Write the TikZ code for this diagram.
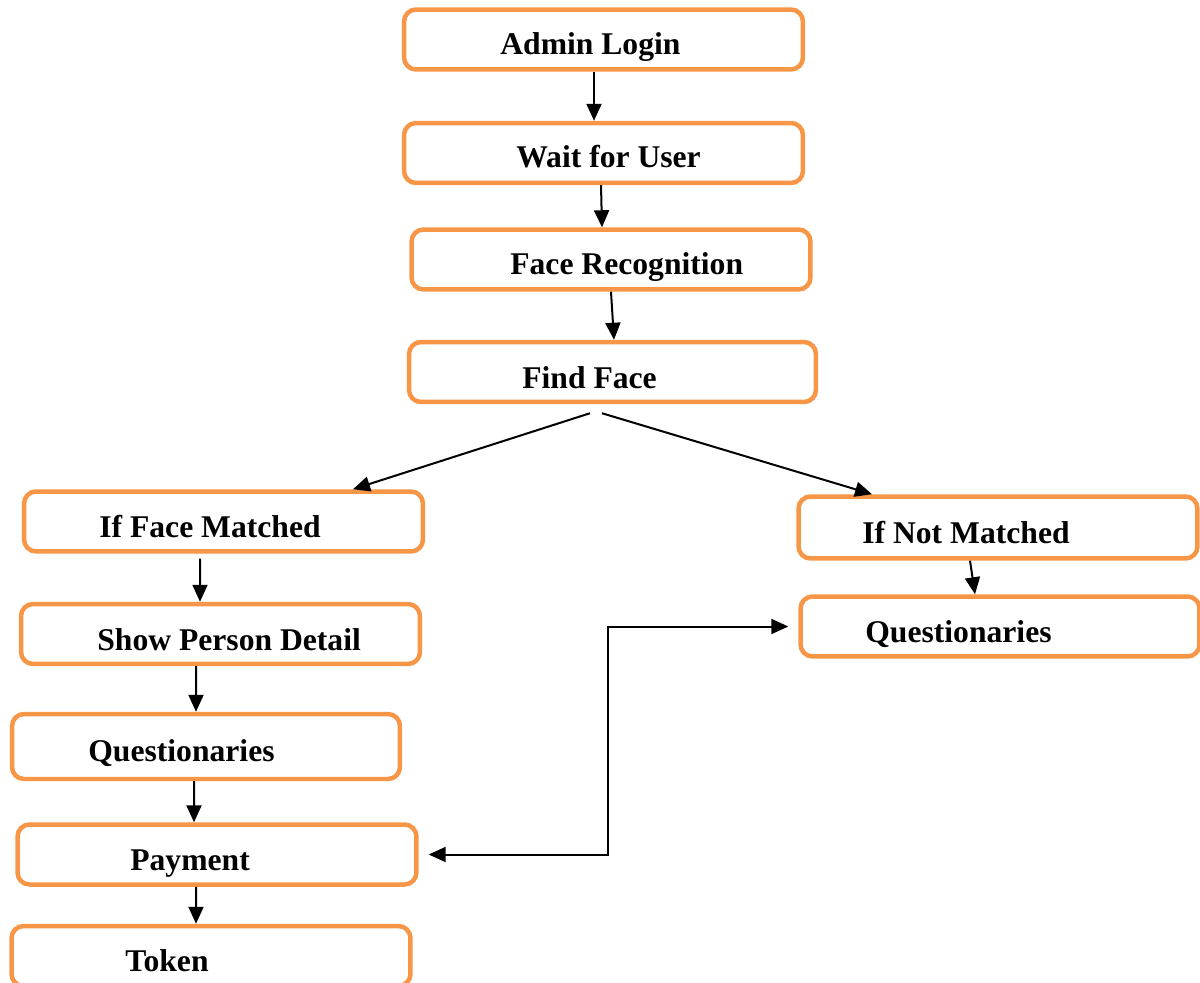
\documentclass[tikz,border=0pt]{standalone}
\usepackage{fontspec}
\setmainfont{Liberation Serif}
\usepackage{tikz}
\usetikzlibrary{arrows.meta,positioning}

\definecolor{boxorange}{HTML}{F79646}

\tikzset{
  flowbox/.style={draw=boxorange, line width=0.09cm, rounded corners=0.24cm, minimum width=7.98cm, minimum height=1.2cm, inner sep=0pt},
  boxtext/.style={font=\fontsize{18}{22}\selectfont\bfseries, anchor=base west, inner sep=0pt},
  flow/.style={line width=0.04cm, -{Triangle[length=0.34cm,width=0.3cm]}}
}

\begin{document}
\begin{tikzpicture}[x=0.02cm, y=-0.02cm]
    \useasboundingbox (0,0) rectangle (1200,983);

    % boxes
    \node[flowbox] (admin) at (603.5,39.5) {};
    \node[flowbox] (wait) at (603.5,153) {};
    \node[flowbox] (facerec) at (611,259.5) {};
    \node[flowbox, minimum width=8.14cm] (find) at (612.5,372) {};
    \node[flowbox] (ifmatch) at (223.5,521.5) {};
    \node[flowbox, minimum height=1.24cm] (ifnot) at (998,527.5) {};
    \node[flowbox] (show) at (220.5,634) {};
    \node[flowbox, minimum width=7.76cm, minimum height=1.3cm] (qleft) at (206,746.5) {};
    \node[flowbox] (qright) at (1000,626.5) {};
    \node[flowbox] (payment) at (217,854.5) {};
    \node[flowbox] (token) at (211,956) {};

    % labels
    \node[boxtext] (admin-t) at (500,55) {Admin Login};
    \node[boxtext] (wait-t) at (516,168) {Wait for User};
    \node[boxtext] (facerec-t) at (510,275) {Face Recognition};
    \node[boxtext] (find-t) at (522,388) {Find Face};
    \node[boxtext] (ifmatch-t) at (99,537) {If Face Matched};
    \node[boxtext] (ifnot-t) at (862,543) {If Not Matched};
    \node[boxtext] (show-t) at (97,650) {Show Person Detail};
    \node[boxtext] (qleft-t) at (88,761) {Questionaries};
    \node[boxtext] (qright-t) at (865,642) {Questionaries};
    \node[boxtext] (payment-t) at (130,870) {Payment};
    \node[boxtext] (token-t) at (125,971) {Token};

    % arrows
    \draw[flow] ([xshift=-0.19cm]admin.south) -- ([xshift=-0.19cm]wait.north);
    \draw[flow] ([xshift=-0.05cm]wait.south) -- ([xshift=-0.18cm]facerec.north);
    \draw[flow] (facerec.south) -- ([xshift=0.03cm]find.north);
    \draw[flow] ([xshift=-0.45cm,yshift=-0.18cm]find.south) -- ([xshift=2.59cm]ifmatch.north);
    \draw[flow] ([xshift=-0.21cm,yshift=-0.18cm]find.south) -- ([xshift=-2.52cm]ifnot.north);
    \draw[flow] ([xshift=-0.47cm,yshift=-0.1cm]ifmatch.south) -- ([xshift=-0.41cm]show.north);
    \draw[flow] ([xshift=-0.49cm]show.south) -- ([xshift=-0.2cm]qleft.north);
    \draw[flow] ([xshift=-0.24cm]qleft.south) -- ([xshift=-0.46cm]payment.north);
    \draw[flow] ([xshift=-0.42cm]payment.south) -- ([xshift=-0.3cm]token.north);
    \draw[flow] ([xshift=-0.56cm]ifnot.south) -- ([xshift=-0.5cm]qright.north);
    \draw[flow, {Triangle[length=0.34cm,width=0.3cm]}-{Triangle[length=0.34cm,width=0.3cm]}]
        ([xshift=0.2cm]payment.east) -| ([xshift=-3.8cm]qright.west) -- ([xshift=-0.2cm]qright.west);
\end{tikzpicture}
\end{document}
